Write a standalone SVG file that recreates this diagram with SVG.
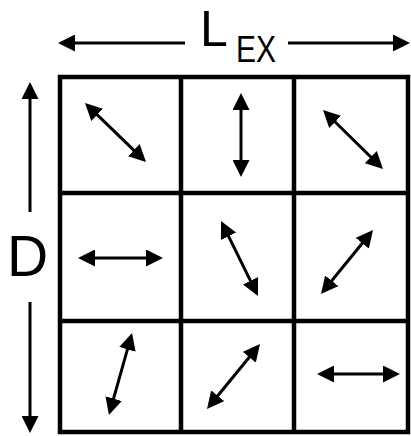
<svg xmlns="http://www.w3.org/2000/svg" width="411" height="436" viewBox="0 0 411 436">
<style>
.grid{fill:none;stroke:#000;stroke-width:4.5}
.arr{stroke:#000;stroke-width:3;fill:none;marker-start:url(#h);marker-end:url(#h)}
.a1{stroke:#000;stroke-width:3;fill:none;marker-start:url(#h)}
.a2{stroke:#000;stroke-width:3;fill:none;marker-end:url(#h)}
.lbl{font-family:"Liberation Sans","DejaVu Sans",sans-serif;fill:#000}
</style>
<defs>
<marker id="h" markerUnits="userSpaceOnUse" markerWidth="18" markerHeight="17" viewBox="0 0 18 17" refX="11" refY="8.5" orient="auto-start-reverse">
<path d="M0,0 L17,8.5 L0,17 Z" fill="#000"/>
</marker>
</defs>
<rect fill="#fff" x="0" y="0" width="411" height="436"/>
<g id="grid">
<rect class="grid" x="60" y="77" width="348" height="355"/>
<line class="grid" x1="181" y1="77" x2="181" y2="432"/>
<line class="grid" x1="294" y1="77" x2="294" y2="432"/>
<line class="grid" x1="60" y1="193" x2="408" y2="193"/>
<line class="grid" x1="60" y1="321" x2="408" y2="321"/>
</g>
<g id="dimensions">
<line class="a1" x1="64" y1="43" x2="185" y2="43"/>
<line class="a2" x1="288" y1="43" x2="404" y2="43"/>
<line class="a1" x1="30" y1="88" x2="30" y2="212"/>
<line class="a2" x1="30" y1="302" x2="30" y2="427"/>
<text class="lbl" x="200" y="46" font-size="50">L</text>
<text class="lbl" x="236" y="62" font-size="37" textLength="40" lengthAdjust="spacingAndGlyphs">EX</text>
<text class="lbl" x="7" y="276" font-size="57">D</text>
</g>
<g id="cells">
<line class="arr" x1="89.3" y1="107.2" x2="141.7" y2="157.8"/>
<line class="arr" x1="241" y1="99" x2="241" y2="171"/>
<line class="arr" x1="327.3" y1="114.2" x2="378.7" y2="164.8"/>
<line class="arr" x1="84" y1="258" x2="157" y2="258"/>
<line class="arr" x1="223.7" y1="226.4" x2="255.3" y2="290.6"/>
<line class="arr" x1="369.2" y1="234.7" x2="324.8" y2="289.3"/>
<line class="arr" x1="130.4" y1="338.8" x2="110.6" y2="409.2"/>
<line class="arr" x1="256.2" y1="348.7" x2="210.8" y2="404.3"/>
<line class="arr" x1="323" y1="374" x2="394" y2="374"/>
</g>
</svg>
